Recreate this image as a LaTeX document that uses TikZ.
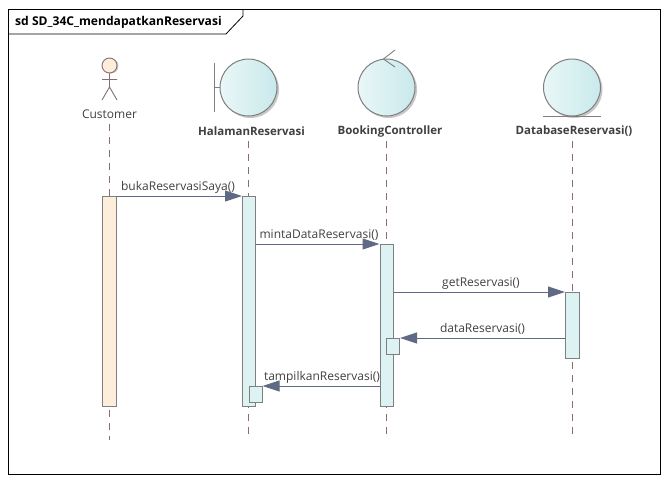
\documentclass[tikz,border=0pt]{standalone}
\usepackage{fontspec}
\setmainfont{Open Sans}
\usetikzlibrary{arrows.meta,shadings}
\definecolor{linegrey}{HTML}{7F7F7F}
\definecolor{lifeline}{HTML}{8A6E6E}
\definecolor{msgcol}{HTML}{5F6B85}
\definecolor{txt}{HTML}{404040}
\definecolor{actfill}{HTML}{DDF3F3}
\definecolor{custfill}{HTML}{FDEEDB}
\definecolor{ballL}{HTML}{E9F7F7}
\definecolor{ballR}{HTML}{C9E9EC}
\tikzset{
  x=1pt,y=-1pt,
  framebox/.style={draw=black,line width=0.8pt},
  ball/.style={circle,draw=linegrey,line width=1pt,minimum size=57pt,inner sep=0pt,left color=ballL,right color=ballR},
  ballshadow/.style={circle,fill=black!22,minimum size=57pt,inner sep=0pt},
  glyph/.style={draw=linegrey,line width=0.9pt},
  lifelinestyle/.style={draw=lifeline,line width=0.8pt,dash pattern=on 7pt off 6pt},
  act/.style={draw=linegrey,line width=1pt,fill=actfill,inner sep=0pt,anchor=north west},
  custact/.style={act,fill=custfill},
  msg/.style={draw=msgcol,line width=1pt,-{Triangle[length=17pt,width=11pt,fill=msgcol]}},
  lbl/.style={font=\fontsize{12pt}{14pt}\selectfont,text=txt,inner sep=0pt},
  boldlbl/.style={lbl,font=\fontsize{11.5pt}{14pt}\selectfont\bfseries},
  msglbl/.style={lbl,anchor=base}
}
\begin{document}
\begin{tikzpicture}
\useasboundingbox (0,0) rectangle (667,482);
\fill[white] (0,0) rectangle (667,482);
% frame
\node[framebox,minimum width=652pt,minimum height=465pt,inner sep=0pt,anchor=north west] (frame) at (8,9) {};
\draw[framebox] (frame.north west |- 0,34) -- (226,34) -- (243,16) -- (243,9);
\node[lbl,anchor=base west,text=black,font=\fontsize{12.1pt}{14pt}\selectfont\bfseries] (title) at (15,25) {sd SD\_34C\_mendapatkanReservasi};
% lifelines anchors
\coordinate (cTop) at (109.5,124); \coordinate (cEnd) at (109.5,440);
\coordinate (hTop) at (248.5,141); \coordinate (hEnd) at (248.5,437);
\coordinate (bTop) at (386.5,141); \coordinate (bEnd) at (386.5,437);
\coordinate (dTop) at (572.5,141); \coordinate (dEnd) at (572.5,437);
\draw[lifelinestyle] (cTop) -- (cEnd);
\draw[lifelinestyle] (hTop) -- (hEnd);
\draw[lifelinestyle] (bTop) -- (bEnd);
\draw[lifelinestyle] (dTop) -- (dEnd);
% actor
\node[circle,fill=black!20,minimum size=15pt,inner sep=0pt] (headshadow) at (111,66) {};
\node[circle,draw=lifeline,line width=0.9pt,fill=custfill,minimum size=15pt,inner sep=0pt] (head) at (109.5,65.5) {};
\coordinate (hip) at (109.5,87);
\coordinate (armL) at (102,79.5); \coordinate (armR) at (117,79.5);
\coordinate (legL) at (102,100); \coordinate (legR) at (117,100);
\draw[draw=lifeline,line width=0.9pt] (head.south) -- (hip) (armL) -- (armR) (legL) -- (hip) -- (legR);
\node[lbl] (customer) at (109.5,114.5) {Customer};
% boundary
\node[ballshadow] (hs) at (250.5,89.5) {};
\node[ball] (hBall) at (248.5,87.5) {};
\coordinate (barT) at (214.5,63); \coordinate (barB) at (214.5,112); \coordinate (barM) at (214.5,87.5);
\draw[glyph] (barT) -- (barB) (barM) -- (hBall.west);
\node[boldlbl] (hLabel) at (251.5,131.5) {HalamanReservasi};
% control
\node[ballshadow] (bs) at (388.5,89.5) {};
\node[ball] (bBall) at (386.5,87.5) {};
\coordinate (tip) at (383.5,59); \coordinate (tipA) at (395,50); \coordinate (tipB) at (395,67);
\draw[glyph] (tipA) -- (tip) -- (tipB);
\node[boldlbl] (bLabel) at (390,131.5) {BookingController};
% entity
\node[ballshadow] (ds) at (574,89.5) {};
\node[ball] (dBall) at (572,87.5) {};
\coordinate (uL) at (543,116.5); \coordinate (uR) at (601,116.5);
\draw[glyph] (uL) -- (uR);
\node[boldlbl] (dLabel) at (574,131.5) {DatabaseReservasi()};
% activations
\node[custact,minimum width=14pt,minimum height=210pt] (aC) at (102,196) {};
\node[act,minimum width=12.5pt,minimum height=210pt] (aH) at (242,196) {};
\node[act,minimum width=13pt,minimum height=162pt] (aB) at (379.5,244) {};
\node[act,minimum width=13.5pt,minimum height=66pt] (aD) at (565,292) {};
\node[act,minimum width=13pt,minimum height=16pt] (aB2) at (386,338) {};
\node[act,minimum width=13pt,minimum height=16pt] (aH2) at (248.5,386) {};
% messages
\draw[msg] (aC.north east) -- (aH.north west);
\coordinate (m2) at (0,244);
\draw[msg] (aH.east |- m2) -- (aB.north west);
\draw[msg] (aB.east |- aD.north) -- (aD.north west);
\draw[msg] (aD.west |- aB2.north) -- (aB2.north east);
\draw[msg] (aB.west |- aH2.north) -- (aH2.north east);
% message labels
\node[msglbl] (l1) at (178,190) {bukaReservasiSaya()};
\node[msglbl] (l2) at (319,238) {mintaDataReservasi()};
\node[msglbl] (l3) at (481,286) {getReservasi()};
\node[msglbl] (l4) at (482.5,332) {dataReservasi()};
\node[msglbl] (l5) at (322,380) {tampilkanReservasi()};
\end{tikzpicture}
\end{document}
